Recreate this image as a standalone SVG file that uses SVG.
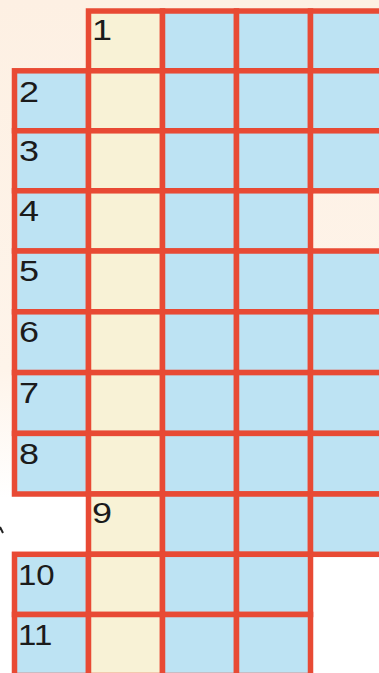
<svg xmlns="http://www.w3.org/2000/svg" width="379" height="673" viewBox="0 0 379 673">
<defs>
<linearGradient id="bg" x1="0" y1="0" x2="0" y2="1">
<stop offset="0" stop-color="#fdf0e3"/>
<stop offset="0.55" stop-color="#fef4ea"/>
<stop offset="0.74" stop-color="#ffffff"/>
<stop offset="1" stop-color="#ffffff"/>
</linearGradient>
<style>
.b{fill:#bde3f3;stroke:#e84a34;stroke-width:5.5}
.y{fill:#f8f2d6;stroke:#e84a34;stroke-width:5.5}
.n{font-family:"Liberation Sans",Arial,sans-serif;font-size:30px;fill:#1b1b1b}
</style>
</defs>
<rect x="0" y="0" width="379" height="673" fill="url(#bg)"/>
<path d="M0,527 L3,533" stroke="#222" stroke-width="2" fill="none"/>
<g id="row1">
<rect class="y" x="88.5" y="11" width="74" height="59.8"/>
<rect class="b" x="162.5" y="11" width="74" height="59.8"/>
<rect class="b" x="236.5" y="11" width="74" height="59.8"/>
<rect class="b" x="310.5" y="11" width="74" height="59.8"/>
<text class="n" transform="translate(92,40) scale(1.2,1)">1</text>
</g>
<g id="row2">
<rect class="b" x="14.5" y="70.8" width="74" height="60"/>
<rect class="y" x="88.5" y="70.8" width="74" height="60"/>
<rect class="b" x="162.5" y="70.8" width="74" height="60"/>
<rect class="b" x="236.5" y="70.8" width="74" height="60"/>
<rect class="b" x="310.5" y="70.8" width="74" height="60"/>
<text class="n" transform="translate(19,102) scale(1.2,1)">2</text>
</g>
<g id="row3">
<rect class="b" x="14.5" y="130.8" width="74" height="60"/>
<rect class="y" x="88.5" y="130.8" width="74" height="60"/>
<rect class="b" x="162.5" y="130.8" width="74" height="60"/>
<rect class="b" x="236.5" y="130.8" width="74" height="60"/>
<rect class="b" x="310.5" y="130.8" width="74" height="60"/>
<text class="n" transform="translate(19,161) scale(1.2,1)">3</text>
</g>
<g id="row4">
<rect class="b" x="14.5" y="190.8" width="74" height="60.2"/>
<rect class="y" x="88.5" y="190.8" width="74" height="60.2"/>
<rect class="b" x="162.5" y="190.8" width="74" height="60.2"/>
<rect class="b" x="236.5" y="190.8" width="74" height="60.2"/>
<text class="n" transform="translate(19,221) scale(1.2,1)">4</text>
</g>
<g id="row5">
<rect class="b" x="14.5" y="251" width="74" height="60.8"/>
<rect class="y" x="88.5" y="251" width="74" height="60.8"/>
<rect class="b" x="162.5" y="251" width="74" height="60.8"/>
<rect class="b" x="236.5" y="251" width="74" height="60.8"/>
<rect class="b" x="310.5" y="251" width="74" height="60.8"/>
<text class="n" transform="translate(19,281) scale(1.2,1)">5</text>
</g>
<g id="row6">
<rect class="b" x="14.5" y="311.8" width="74" height="60.8"/>
<rect class="y" x="88.5" y="311.8" width="74" height="60.8"/>
<rect class="b" x="162.5" y="311.8" width="74" height="60.8"/>
<rect class="b" x="236.5" y="311.8" width="74" height="60.8"/>
<rect class="b" x="310.5" y="311.8" width="74" height="60.8"/>
<text class="n" transform="translate(19,342) scale(1.2,1)">6</text>
</g>
<g id="row7">
<rect class="b" x="14.5" y="372.6" width="74" height="60.8"/>
<rect class="y" x="88.5" y="372.6" width="74" height="60.8"/>
<rect class="b" x="162.5" y="372.6" width="74" height="60.8"/>
<rect class="b" x="236.5" y="372.6" width="74" height="60.8"/>
<rect class="b" x="310.5" y="372.6" width="74" height="60.8"/>
<text class="n" transform="translate(19,403) scale(1.2,1)">7</text>
</g>
<g id="row8">
<rect class="b" x="14.5" y="433.4" width="74" height="60.6"/>
<rect class="y" x="88.5" y="433.4" width="74" height="60.6"/>
<rect class="b" x="162.5" y="433.4" width="74" height="60.6"/>
<rect class="b" x="236.5" y="433.4" width="74" height="60.6"/>
<rect class="b" x="310.5" y="433.4" width="74" height="60.6"/>
<text class="n" transform="translate(19,464) scale(1.2,1)">8</text>
</g>
<g id="row9">
<rect class="y" x="88.5" y="494" width="74" height="60.3"/>
<rect class="b" x="162.5" y="494" width="74" height="60.3"/>
<rect class="b" x="236.5" y="494" width="74" height="60.3"/>
<rect class="b" x="310.5" y="494" width="74" height="60.3"/>
<text class="n" transform="translate(92,523) scale(1.2,1)">9</text>
</g>
<g id="row10">
<rect class="b" x="14.5" y="554.3" width="74" height="60.2"/>
<rect class="y" x="88.5" y="554.3" width="74" height="60.2"/>
<rect class="b" x="162.5" y="554.3" width="74" height="60.2"/>
<rect class="b" x="236.5" y="554.3" width="74" height="60.2"/>
<text class="n" transform="translate(18,585) scale(1.1,1)">10</text>
</g>
<g id="row11">
<rect class="b" x="14.5" y="614.5" width="74" height="61"/>
<rect class="y" x="88.5" y="614.5" width="74" height="61"/>
<rect class="b" x="162.5" y="614.5" width="74" height="61"/>
<rect class="b" x="236.5" y="614.5" width="74" height="61"/>
<text class="n" transform="translate(18,645) scale(1.1,1)">11</text>
</g>
</svg>
